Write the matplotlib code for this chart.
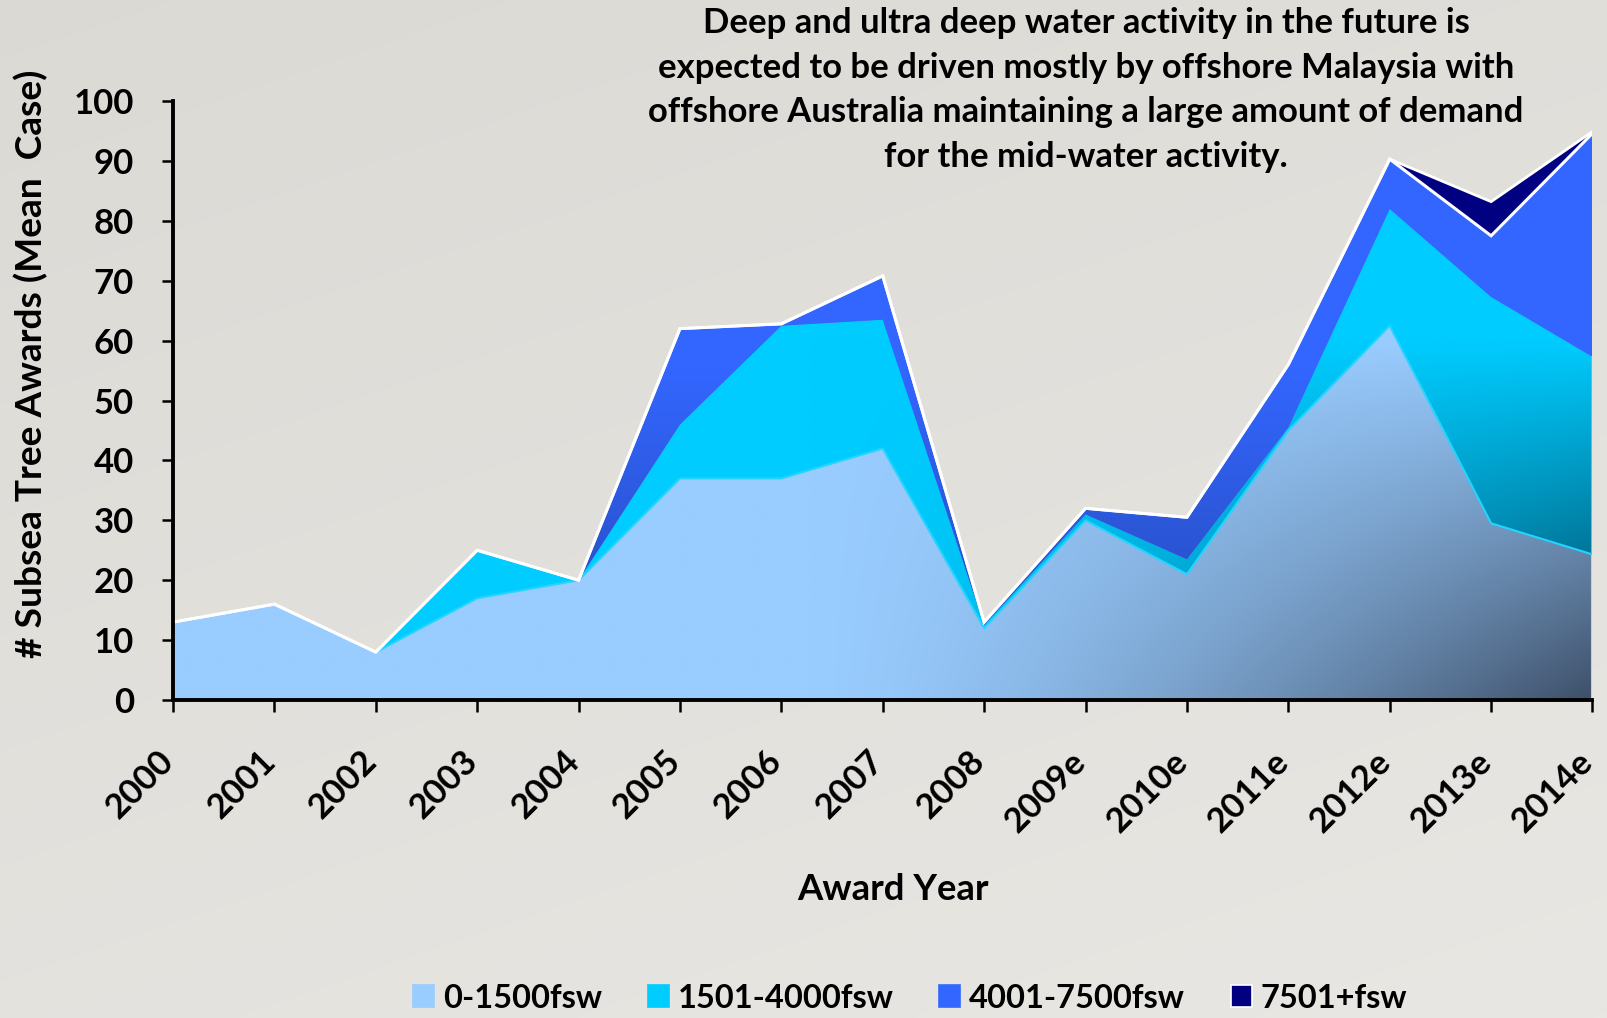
import numpy as np
import matplotlib
matplotlib.use('Agg')
import matplotlib.pyplot as plt
from matplotlib.colors import to_rgb
from matplotlib.patches import Patch
import matplotlib.transforms as mtransforms

plt.rcParams['font.family'] = ['Lato', 'DejaVu Sans']
plt.rcParams['font.weight'] = 'bold'

years = ['2000', '2001', '2002', '2003', '2004', '2005', '2006', '2007',
         '2008', '2009e', '2010e', '2011e', '2012e', '2013e', '2014e']
shallow = [13, 16, 8, 17, 20, 37, 37, 42, 12, 30, 21, 45, 62.5, 29.5, 24.3]
mid = [0, 0, 0, 8, 0, 9, 25.5, 21.5, 0.5, 1, 2.5, 0.5, 19.5, 37.8, 33.0]
deep = [0, 0, 0, 0, 0, 16, 0.3, 7.3, 0.5, 1, 7, 10.5, 8.3, 10.2, 37.3]
ultra = [0, 0, 0, 0, 0, 0, 0, 0, 0, 0, 0, 0, 0, 5.7, 0.3]
series_names = ['0-1500fsw', '1501-4000fsw', '4001-7500fsw', '7501+fsw']
yticks = list(range(0, 101, 10))

title_lines = ['Deep and ultra deep water activity in the future is',
               'expected to be driven mostly by offshore Malaysia with',
               'offshore Australia maintaining a large amount of demand',
               'for the mid-water activity.']

W, H = 1608, 1018
fig = plt.figure(figsize=(W / 100, H / 100), dpi=100)
fig.patch.set_facecolor('#E2E0DB')

# background gradient
bg = fig.add_axes([0, 0, 1, 1], zorder=-10)
bg.axis('off')
gy, gx = np.mgrid[0:1:200j, 0:1:200j]
gt = np.clip(0.35 * gx + 0.65 * gy, 0, 1)[..., None]
c_a = np.array([0.860, 0.853, 0.833])
c_b = np.array([0.910, 0.906, 0.890])
bg.imshow((1 - gt) * c_a + gt * c_b, extent=[0, 1, 0, 1], aspect='auto',
          origin='upper', interpolation='bilinear')
bg.set_xlim(0, 1); bg.set_ylim(0, 1)

ax = fig.add_axes([173 / W, 1 - 700 / H, 1419.5 / W, 599 / H])
ax.set_facecolor('none')

xs = np.arange(len(years))
s1 = np.array(shallow)
s2 = s1 + np.array(mid)
s3 = s2 + np.array(deep)
s4 = s3 + np.array(ultra)
zero = np.zeros_like(s1)

nx, ny = 400, 400
U, V = np.meshgrid(np.linspace(0, 1, nx), np.linspace(0, 1, ny))


def diag_t(U, V):
    fu = np.clip((U - 0.45) / 0.55, 0, 1) ** 1.4
    gv = np.clip(1 - V / 0.6, 0, 1)
    return np.clip(fu * gv, 0, 1)


def vert_t(U, V):
    return np.clip((0.55 - V) / 0.35, 0, 1)


def grad_fill(lower, upper, c0, c1, tfunc, z):
    poly = ax.fill_between(xs, lower, upper, facecolor=c0, lw=0, zorder=z)
    if tfunc is None:
        return
    t = tfunc(U, V)[..., None]
    img = (1 - t) * np.array(to_rgb(c0)) + t * np.array(to_rgb(c1))
    im = ax.imshow(img, extent=[0, len(years) - 1, 0, 100], origin='lower',
                   aspect='auto', zorder=z + 0.1, interpolation='bilinear')
    im.set_clip_path(poly.get_paths()[0], ax.transData)


grad_fill(zero, s1, '#99CCFF', '#3E5069', diag_t, 1)
grad_fill(s1, s2, '#00CCFF', '#003A52', diag_t, 2)
grad_fill(s2, s3, '#3366FF', '#2A52CC', vert_t, 3)
grad_fill(s3, s4, '#000080', '#000080', None, 4)

ax.plot(xs, s1, color='#22D4FF', lw=1.5, zorder=5)
ax.plot([xs[-1], xs[-1]], [0, s1[-1]], color='#A8D4FF', lw=1.5, zorder=5)
ax.plot([xs[-1], xs[-1]], [s1[-1], s2[-1]], color='#22D4FF', lw=1.5, zorder=5)
ax.plot(xs, s3, color='white', lw=2.2, zorder=6, solid_joinstyle='miter')
ax.plot(xs, s4, color='white', lw=2.0, zorder=6, solid_joinstyle='miter')

ax.set_xlim(0, len(years) - 1)
ax.set_ylim(0, 100)
ax.set_yticks(yticks)
ax.set_yticklabels([str(v) for v in yticks], fontsize=25, fontweight='bold')
ax.set_xticks(xs)
ax.set_xticklabels(years, fontsize=25, fontweight='bold', rotation=45, ha='right')

for sp in ['top', 'right']:
    ax.spines[sp].set_visible(False)
for sp in ['left', 'bottom']:
    ax.spines[sp].set_linewidth(2.8)
    ax.spines[sp].set_color('black')
    ax.spines[sp].set_zorder(10)
ax.tick_params(axis='y', length=8.2, width=1.8, pad=20, direction='out')
ax.tick_params(axis='x', length=8.4, width=1.8, pad=24, direction='out')

off = mtransforms.ScaledTranslation(7 / 100, 0, fig.dpi_scale_trans)
for lbl in ax.get_xticklabels():
    lbl.set_transform(lbl.get_transform() + off)

renderer = fig.canvas.get_renderer()


def fit(t, target, dim='w'):
    bb = t.get_window_extent(renderer)
    cur = bb.width if dim == 'w' else bb.height
    t.set_fontsize(t.get_fontsize() * target / cur)


# title lines
baselines = [33, 77.6, 122.2, 166.8]
tobjs = []
for line, b in zip(title_lines, baselines):
    tobjs.append(fig.text(1086 / W, 1 - b / H, line, ha='center', va='baseline',
                          fontsize=24, fontweight='bold', color='black'))
fit(tobjs[1], 857)
for t in tobjs:
    t.set_fontsize(tobjs[1].get_fontsize())

ylab = fig.text(31 / W, 1 - 364 / H, '# Subsea Tree Awards (Mean  Case)', rotation=90,
                ha='center', va='center', fontsize=24, fontweight='bold')
fit(ylab, 590, 'h')

xlab = fig.text(893 / W, 1 - 890 / H, 'Award Year', ha='center', va='center',
                fontsize=24, fontweight='bold')
fit(xlab, 192)

colors = ['#99CCFF', '#00CCFF', '#3366FF', '#000080']
edges = ['#99CCFF', '#00CCFF', '#3366FF', 'white']
handles = [Patch(facecolor=c, edgecolor=e, lw=1.2, label=n)
           for c, e, n in zip(colors, edges, series_names)]
fig.legend(handles=handles, loc='center', bbox_to_anchor=(0.566, 0.0196), ncol=4,
           frameon=False, handlelength=0.64, handleheight=0.67,
           handletextpad=0.28, columnspacing=1.4,
           prop={'weight': 'bold', 'size': 23.5})

fig.savefig('out.png', dpi=100, facecolor=fig.get_facecolor())
